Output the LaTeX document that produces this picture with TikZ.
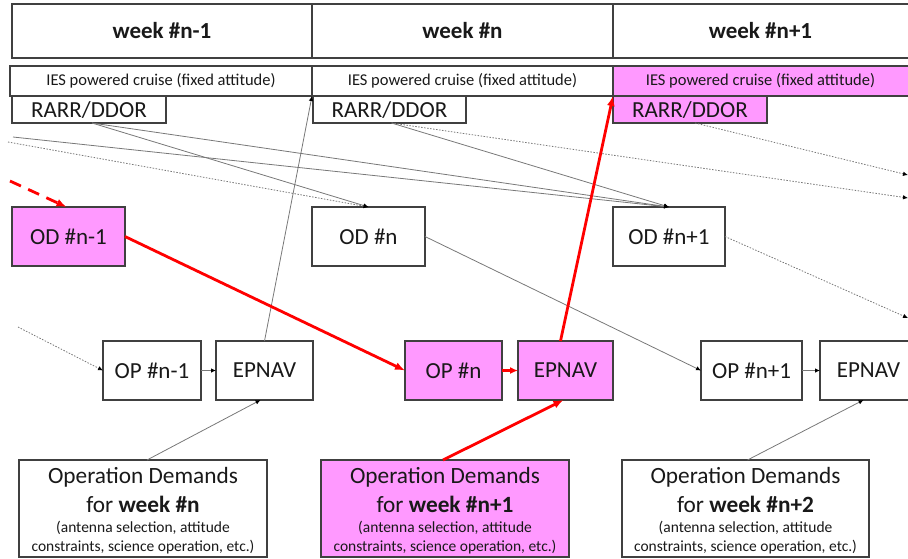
\documentclass[tikz,border=0pt]{standalone}
\usepackage{fontspec}
\setmainfont{Carlito}
\usetikzlibrary{arrows.meta}
\definecolor{pinkf}{RGB}{255,153,255}
\definecolor{bord}{RGB}{64,64,64}
\definecolor{txt}{RGB}{25,25,25}
\definecolor{lgrey}{RGB}{120,120,120}
\newcommand{\fs}[1]{\fontsize{#1}{#1}\selectfont}
\tikzset{
  box/.style={draw=bord, line width=1.2pt, fill=white, anchor=north west, inner sep=0pt, outer sep=0pt, text=txt},
  pbox/.style={box, fill=pinkf},
  hdr/.style={font=\fs{23}\bfseries},
  ies/.style={font=\fs{16.5}},
  lbl/.style={font=\fs{23}},
  txtn/.style={anchor=base, inner sep=0pt, text=txt},
  thin/.style={draw=lgrey, line width=0.8pt, -{Latex[length=5pt,width=4.5pt,black]}},
  dots/.style={draw=lgrey, line width=0.8pt, dash pattern=on 1.5pt off 1.5pt, -{Latex[length=5pt,width=4.5pt,black]}},
  redar/.style={draw=red, line width=2.8pt, -{Latex[length=10pt,width=8pt]}},
}
\begin{document}
\begin{tikzpicture}[x=1pt,y=-1pt]
\useasboundingbox (0,0) rectangle (908,558);
\clip (0,0) rectangle (908,558);
% headers
\node[box, hdr, minimum width=300, minimum height=54] (H1) at (12,4) {week \#n-1};
\node[box, hdr, minimum width=301, minimum height=54] (H2) at (312,4) {week \#n};
\node[box, hdr, minimum width=307, minimum height=54] (H3) at (613,4) {\hspace*{-12pt}week \#n+1};
% IES
\node[box, ies, minimum width=302, minimum height=30] (I1) at (10,66) {IES powered cruise (fixed attitude)};
\node[box, ies, minimum width=301, minimum height=30] (I2) at (312,66) {IES powered cruise (fixed attitude)};
\node[pbox, ies, minimum width=307, minimum height=30] (I3) at (613,66) {\hspace*{-12pt}IES powered cruise (fixed attitude)};
% RARR
\node[box, lbl, minimum width=154, minimum height=27] (R1) at (12,96) {RARR/DDOR};
\node[box, lbl, minimum width=153, minimum height=27] (R2) at (313,96) {RARR/DDOR};
\node[pbox, lbl, minimum width=154, minimum height=27] (R3) at (613,96) {RARR/DDOR};
% OD
\node[pbox, lbl, minimum width=113, minimum height=59] (OD1) at (12,207) {OD \#n-1};
\node[box, lbl, minimum width=113, minimum height=59] (OD2) at (312,207) {OD \#n};
\node[box, lbl, minimum width=112, minimum height=59] (OD3) at (613,207) {OD \#n+1};
% OP / EPNAV
\node[box, lbl, minimum width=98, minimum height=59] (OP1) at (103,341) {OP \#n-1};
\node[box, lbl, minimum width=97, minimum height=59] (EP1) at (216,341) {EPNAV};
\node[pbox, lbl, minimum width=97, minimum height=59] (OP2) at (405,341) {OP \#n};
\node[pbox, lbl, minimum width=95, minimum height=59] (EP2) at (518,341) {EPNAV};
\node[box, lbl, minimum width=101, minimum height=59] (OP3) at (701,341) {OP \#n+1};
\node[box, lbl, minimum width=97, minimum height=59] (EP3) at (820,341) {EPNAV};
% Demands
\node[box, minimum width=248, minimum height=97] (DM1) at (19,460) {};
\node[pbox, minimum width=248, minimum height=97] (DM2) at (321,460) {};
\node[box, minimum width=247, minimum height=97] (DM3) at (622,460) {};
\foreach \b/\w in {DM1/n, DM2/n+1, DM3/n+2}{
  \node[txtn, font=\fs{23.3}] (\b a) at ([yshift=-23]\b.north) {Operation Demands};
  \node[txtn, font=\fs{23.3}] (\b b) at ([yshift=-52]\b.north) {for \textbf{week \#\w}};
  \node[txtn, font=\fs{15.5}] (\b c) at ([yshift=-72]\b.north) {(antenna selection, attitude};
  \node[txtn, font=\fs{15.5}] (\b d) at ([yshift=-91]\b.north) {constraints, science operation, etc.)};
}
% free ends
\coordinate (rd) at (10,181);
\coordinate (lsol) at (13,137);
\coordinate (ldot) at (8,142);
\coordinate (lop) at (18,327);
\coordinate (rt1) at (908,175);
\coordinate (rt2) at (908,198);
\coordinate (rt3) at (908,318);
% thin connectors
\draw[thin] ([xshift=3]R1.south) -- (OD2.north);
\draw[thin] ([xshift=3]R1.south) -- (OD3.north);
\draw[thin] (lsol) -- (OD3.north);
\draw[dots] (ldot) -- (OD2.north);
\draw[thin] ([xshift=2]R2.south) -- (OD3.north);
\draw[dots] ([xshift=2]R2.south) -- (rt2);
\draw[dots] ([xshift=5]R3.south) -- (rt1);
\draw[dots] (OD3.east) -- (rt3);
\draw[dots] (lop) -- (OP1.west);
\draw[thin] (OD2.east) -- (OP3.west);
\draw[thin] (OP1.east) -- (EP1.west);
\draw[thin] (OP3.east) -- (EP3.west);
\draw[thin] (EP1.north) -- (I1.south east);
\draw[thin] ([xshift=4]DM1.north) -- ([xshift=-4]EP1.south);
\draw[thin] ([xshift=2]DM3.north) -- ([xshift=-5]EP3.south);
% red path
\draw[redar, dash pattern=on 12pt off 8pt] (rd) -- ([xshift=-2]OD1.north);
\draw[redar] (OD1.east) -- (OP2.west);
\draw[redar, -{Latex[length=8pt,width=7pt]}] (OP2.east) -- (EP2.west);
\draw[redar] ([xshift=-5]EP2.north) -- (I3.south west);
\draw[redar] ([xshift=-2]DM2.north) -- ([xshift=-2]EP2.south);
\end{tikzpicture}
\end{document}
